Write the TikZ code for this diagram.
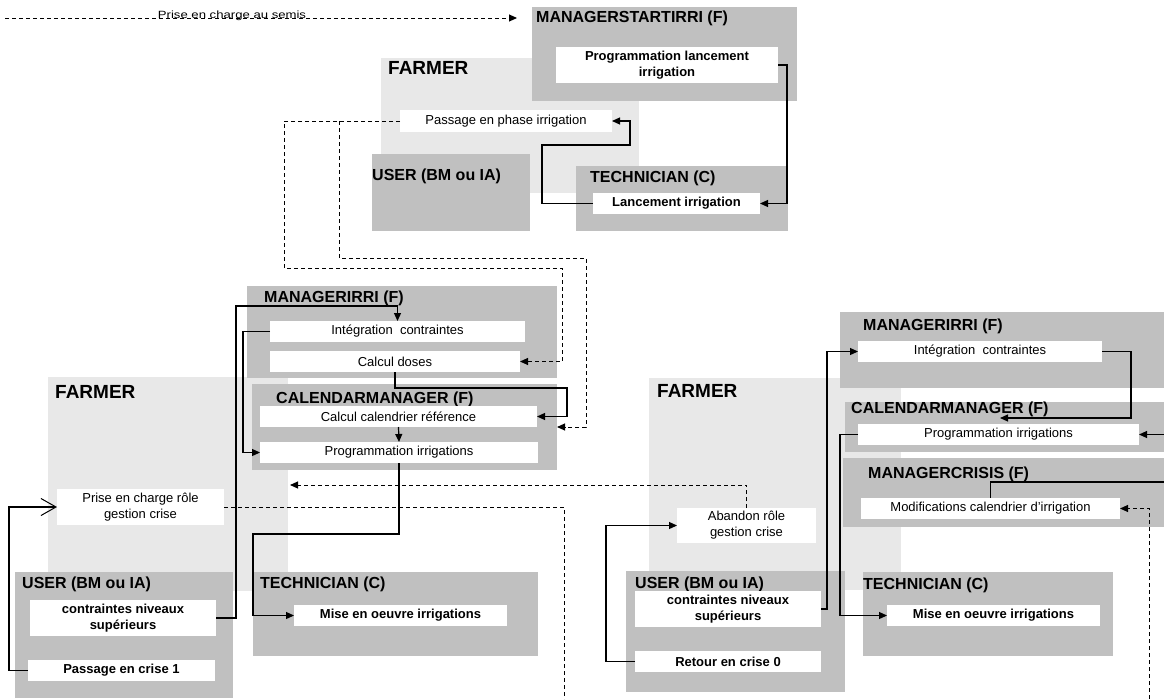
\documentclass[tikz,border=0pt]{standalone}
\usepackage{fontspec}
\setmainfont{Liberation Sans}
\usepackage{graphicx}
\usetikzlibrary{arrows.meta}
\definecolor{rolegray}{RGB}{192,192,192}
\definecolor{farmergray}{RGB}{232,232,232}

\tikzset{
  farmerbox/.style={fill=farmergray, draw=none, inner sep=0pt, outer sep=0pt, anchor=north west},
  rolebox/.style={fill=rolegray, draw=none, inner sep=0pt, outer sep=0pt, anchor=north west},
  taskbox/.style={fill=white, draw=none, inner sep=0pt, outer sep=0pt, anchor=north west,
    align=center, font=\fontsize{13}{16}\selectfont},
  boldtask/.style={taskbox, font=\fontsize{13}{16}\selectfont\bfseries},
  roletitle/.style={anchor=base west, inner sep=0pt, font=\fontsize{16}{18}\selectfont\bfseries},
  farmertitle/.style={anchor=base west, inner sep=0pt, font=\fontsize{19}{21}\selectfont\bfseries},
  flow/.style={draw=black, line width=1.2pt, -{Triangle[length=8pt,width=7pt]}},
  openflow/.style={draw=black, line width=1.1pt, -{Straight Barb[length=15pt,width=17pt,line width=1pt]}},
  msg/.style={draw=black, line width=1pt, dash pattern=on 4pt off 3pt, -{Triangle[length=8pt,width=7pt]}},
  msgline/.style={draw=black, line width=1pt, dash pattern=on 4pt off 3pt},
}

\begin{document}
\begin{tikzpicture}[x=1pt,y=-1pt]
\useasboundingbox (0,0) rectangle (1164,699);

% ---------- farmer areas (background) ----------
\node[farmerbox, minimum width=258pt, minimum height=135pt] (farmerA) at (381,58) {};
\node[farmerbox, minimum width=240pt, minimum height=214pt] (farmerB) at (48,377) {};
\node[farmerbox, minimum width=252pt, minimum height=212pt] (farmerC) at (649,378) {};

% ---------- role areas ----------
\node[rolebox, minimum width=265pt, minimum height=94pt]  (startirri) at (532,7) {};
\node[rolebox, minimum width=158pt, minimum height=77pt]  (userA) at (372,154) {};
\node[rolebox, minimum width=212pt, minimum height=65pt]  (techA) at (576,166) {};

\node[rolebox, minimum width=310pt, minimum height=92pt]  (irriA) at (247,286) {};
\node[rolebox, minimum width=305pt, minimum height=86pt]  (calA) at (252,384) {};
\node[rolebox, minimum width=218pt, minimum height=126pt] (userB) at (15,572) {};
\node[rolebox, minimum width=285pt, minimum height=84pt]  (techB) at (253,572) {};

\node[rolebox, minimum width=219pt, minimum height=121pt] (userC) at (626,571) {};
\node[rolebox, minimum width=324pt, minimum height=76pt]  (irriB) at (840,312) {};
\node[rolebox, minimum width=319pt, minimum height=50pt]  (calB) at (845,402) {};
\node[rolebox, minimum width=321pt, minimum height=69pt]  (crisis) at (843,458) {};
\node[rolebox, minimum width=250pt, minimum height=84pt]  (techC) at (863,572) {};

% ---------- titles ----------
\node[roletitle]   (startirriT) at (536,22)  {MANAGERSTARTIRRI (F)};
\node[farmertitle] (farmerAT)   at (388,74)  {FARMER};
\node[roletitle]   (userAT)     at (372,180) {USER (BM ou IA)};
\node[roletitle]   (techAT)     at (590,182) {TECHNICIAN (C)};
\node[roletitle]   (irriAT)     at (264,302) {MANAGERIRRI (F)};
\node[roletitle]   (calAT)      at (276,403) {CALENDARMANAGER (F)};
\node[farmertitle] (farmerBT)   at (55,398)  {FARMER};
\node[roletitle]   (userBT)     at (22,588)  {USER (BM ou IA)};
\node[roletitle]   (techBT)     at (260,588) {TECHNICIAN (C)};
\node[farmertitle] (farmerCT)   at (657,397) {FARMER};
\node[roletitle]   (userCT)     at (635,588) {USER (BM ou IA)};
\node[roletitle]   (irriBT)     at (863,330) {MANAGERIRRI (F)};
\node[roletitle]   (calBT)      at (851,413) {CALENDARMANAGER (F)};
\node[roletitle]   (crisisT)    at (868,478) {MANAGERCRISIS (F)};
\node[roletitle]   (techCT)     at (863,589) {TECHNICIAN (C)};

% ---------- tasks ----------
\node[boldtask, minimum width=222pt, minimum height=36pt] (progLanc) at (556,47) {Programmation lancement\\irrigation};
\node[taskbox,  minimum width=212pt, minimum height=22pt] (passPhase) at (400,110) {Passage en phase irrigation};
\node[boldtask, minimum width=167pt, minimum height=21pt] (lancIrri) at (593,193) {Lancement irrigation};

\node[taskbox, minimum width=255pt, minimum height=21pt] (integA) at (270,321) {Intégration~~contraintes};
\node[taskbox, minimum width=250pt, minimum height=21pt] (doses) at (270,351) {Calcul doses};
\node[taskbox, minimum width=277pt, minimum height=21pt] (calRef) at (260,406) {Calcul calendrier référence};
\node[taskbox, minimum width=278pt, minimum height=21pt] (progA) at (260,442) {Programmation irrigations};

\node[taskbox,  minimum width=167pt, minimum height=36pt] (priseRole) at (57,489) {Prise en charge rôle\\gestion crise};
\node[boldtask, minimum width=186pt, minimum height=36pt] (contrA) at (30,600) {contraintes niveaux\\supérieurs};
\node[boldtask, minimum width=187pt, minimum height=21pt] (crise1) at (28,660) {Passage en crise 1};
\node[boldtask, minimum width=213pt, minimum height=21pt] (miseA) at (294,605) {Mise en oeuvre irrigations};

\node[taskbox,  minimum width=139pt, minimum height=35pt] (abandon) at (677,508) {Abandon rôle\\gestion crise};
\node[boldtask, minimum width=186pt, minimum height=36pt] (contrB) at (635,591) {contraintes niveaux\\supérieurs};
\node[boldtask, minimum width=186pt, minimum height=21pt] (crise0) at (635,651) {Retour en crise 0};

\node[taskbox,  minimum width=244pt, minimum height=21pt] (integB) at (858,341) {Intégration~~contraintes};
\node[taskbox,  minimum width=281pt, minimum height=21pt] (progB) at (858,424) {Programmation irrigations};
\node[taskbox,  minimum width=259pt, minimum height=21pt] (modif) at (861,498) {Modifications calendrier d’irrigation};
\node[boldtask, minimum width=213pt, minimum height=21pt] (miseB) at (887,605) {Mise en oeuvre irrigations};

% ---------- free ends ----------
\coordinate (semisStart) at (5,18);
\coordinate (phaseFork) at (339,121);
\coordinate (crisisDown) at (564,699);
\coordinate (abandonEnd) at (290,485);
\coordinate (progBTop) at (1000,418);
\coordinate (rightIn) at (1164,434.5);
\coordinate (rightOut) at (1164,482);
\coordinate (modifUp) at (1149,699);

% ---------- messages (dashed) ----------
\draw[msg, shorten >=15pt] (semisStart) -- (startirri.west |- semisStart);
\node[anchor=base, inner sep=0pt, font=\fontsize{10.5}{12}\selectfont] (semisLabel) at (232,18)
  {\scalebox{1.25}[1]{Prise en charge au semis}};

\draw[msg] (passPhase.west) -| (284,268) -- (562,268) |- (doses.east);
\draw[msg] (phaseFork) |- (586,258) |- (calA.east);
\draw[msgline] (priseRole.east) -| (crisisDown);
\draw[msg] (abandon.north) |- (abandonEnd);
\draw[msg] (modifUp) |- (modif.east);

% ---------- flows (solid) ----------
\draw[flow] (progLanc.east) -- ++(9,0) |- (lancIrri.east);
\draw[flow] (lancIrri.west) -- ++(-51,0) |- (630,145) |- (passPhase.east);

\draw[flow] (contrA.east) -| (236,306) -| (integA.north);
\draw[flow] (integA.west) -- ++(-27,0) |- (progA.west);
\draw[flow] (doses.south) |- (567,388) |- (calRef.east);
\draw[flow] (calRef.south) -- (progA.north);
\draw[flow] (progA.south) |- (253,534) |- (miseA.west);
\draw[openflow] (crise1.west) -- ++(-19,0) |- (priseRole.west);

\draw[flow] (crise0.west) -- ++(-29,0) |- (abandon.west);
\draw[flow] (contrB.east) -- ++(6,0) |- (integB.west);
\draw[flow] (integB.east) -| (1131,418) -- (progBTop);
\draw[flow] (rightIn) -- (progB.east);
\draw[draw=black, line width=1.2pt] (modif.north) |- (rightOut);
\draw[flow] (progB.west) -- ++(-18,0) |- (miseB.west);
\end{tikzpicture}
\end{document}
